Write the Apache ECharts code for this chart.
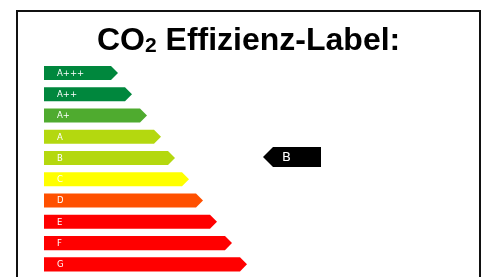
<!DOCTYPE html>
<html>
<head>
<meta charset="utf-8">
<script src="https://cdn.jsdelivr.net/npm/echarts@6/dist/echarts.min.js"></script>
<style>
  html, body { margin: 0; padding: 0; background: #fff; }
  #main { width: 484px; height: 277px; }
</style>
</head>
<body>
<div id="main"></div>
<script>
// Effizienzklassen von oben nach unten
var classes = ['A+++', 'A++', 'A+', 'A', 'B', 'C', 'D', 'E', 'F', 'G'];
// Pfeillaenge je Klasse (Spitze)
var barLengths = [74, 88, 103, 117, 131, 145, 159, 173, 188, 203];
var barColors = ['#00873d', '#00873d', '#4fab2f', '#b4d80f', '#b4d80f',
                 '#ffff00', '#ff5000', '#ff0000', '#ff0000', '#ff0000'];
// aktuelle Klasse + Position des schwarzen Pfeils
var rating = 'B';
var markerRange = [219, 277];

var myChart = echarts.init(document.getElementById('main'));

var barData = classes.map(function (c, i) {
    return [barLengths[i], i];
});

myChart.setOption({
    animation: false,
    title: {
        left: 97,
        top: 25,
        padding: 0,
        text: '{a|CO}{b|2}{a| Effizienz-Label:}',
        textStyle: {
            rich: {
                a: {
                    fontFamily: 'Liberation Sans',
                    fontWeight: 'bold',
                    fontSize: 32,
                    lineHeight: 32,
                    color: '#000',
                    verticalAlign: 'bottom'
                },
                b: {
                    fontFamily: 'Liberation Sans',
                    fontWeight: 'bold',
                    fontSize: 21,
                    lineHeight: 30,
                    color: '#000',
                    verticalAlign: 'bottom'
                }
            }
        }
    },
    graphic: {
        elements: [{
            type: 'rect',
            shape: { x: 17, y: 11, width: 463, height: 400 },
            style: { fill: 'none', stroke: '#111', lineWidth: 2 },
            z: 100
        }]
    },
    grid: { left: 44, right: 4, top: 62.4, bottom: 2 },
    xAxis: {
        type: 'value',
        min: 0,
        max: 436,
        show: false
    },
    yAxis: {
        type: 'category',
        data: classes,
        inverse: true,
        show: false
    },
    series: [{
        type: 'custom',
        encode: { x: 0, y: 1 },
        data: barData,
        renderItem: function (params, api) {
            var idx = api.value(1);
            var start = api.coord([0, idx]);
            var tip = api.coord([api.value(0), idx]);
            var h = api.size([0, 1])[1] * 0.66;
            var half = h / 2;
            var yc = start[1];
            return {
                type: 'group',
                children: [{
                    type: 'polygon',
                    shape: {
                        points: [
                            [start[0], yc - half],
                            [tip[0] - half, yc - half],
                            [tip[0], yc],
                            [tip[0] - half, yc + half],
                            [start[0], yc + half]
                        ]
                    },
                    style: { fill: barColors[idx] }
                }, {
                    type: 'text',
                    x: start[0] + 13,
                    y: yc + 0.5,
                    style: {
                        text: classes[idx],
                        fill: '#fff',
                        font: '8.5px "DejaVu Sans"',
                        verticalAlign: 'middle'
                    }
                }]
            };
        }
    }, {
        type: 'custom',
        encode: { x: 0, y: 2 },
        data: [[markerRange[0], markerRange[1], classes.indexOf(rating)]],
        renderItem: function (params, api) {
            var idx = api.value(2);
            var tip = api.coord([api.value(0), idx]);
            var end = api.coord([api.value(1), idx]);
            var half = 10;
            var yc = tip[1] - 1;
            return {
                type: 'group',
                children: [{
                    type: 'polygon',
                    shape: {
                        points: [
                            [tip[0], yc],
                            [tip[0] + half, yc - half],
                            [end[0], yc - half],
                            [end[0], yc + half],
                            [tip[0] + half, yc + half]
                        ]
                    },
                    style: { fill: '#000' }
                }, {
                    type: 'text',
                    x: tip[0] + 19,
                    y: yc + 0.5,
                    style: {
                        text: rating,
                        fill: '#fff',
                        font: '13px "DejaVu Sans"',
                        verticalAlign: 'middle'
                    }
                }]
            };
        }
    }]
});
</script>
</body>
</html>
